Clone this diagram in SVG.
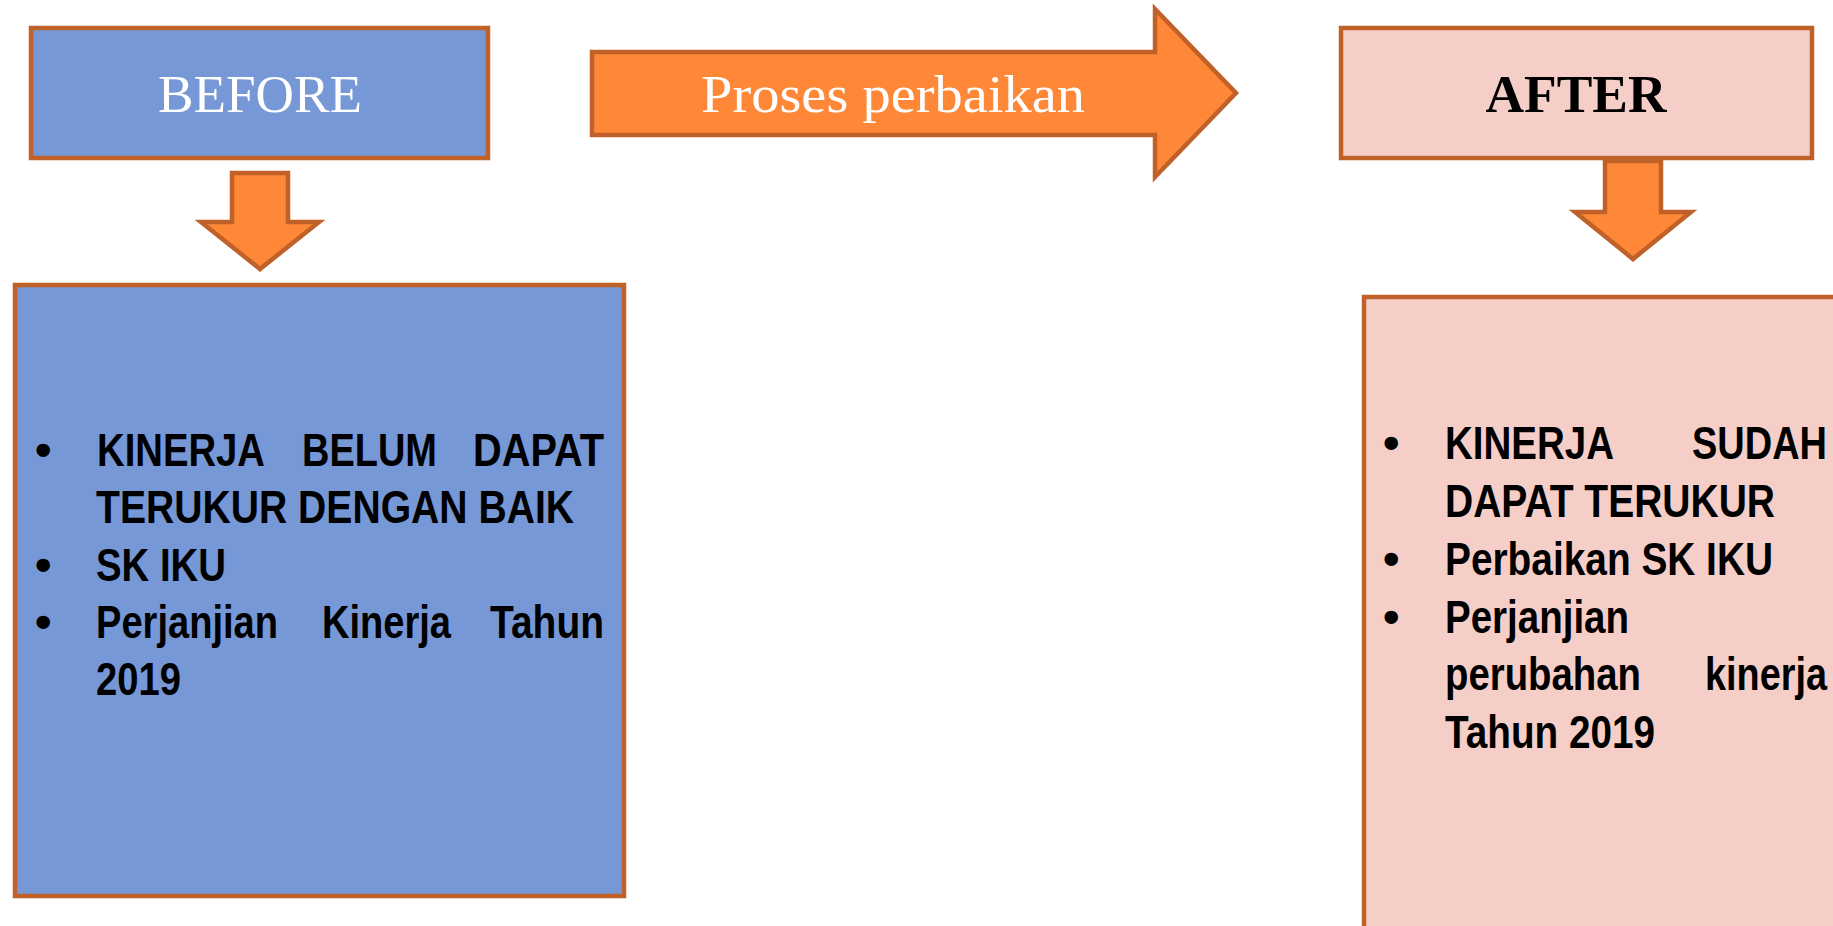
<svg xmlns="http://www.w3.org/2000/svg" width="1833" height="926" viewBox="0 0 1833 926">
  <style>
    .box { stroke: #BF6128; stroke-width: 4.5; stroke-linejoin: miter; }
    .blue { fill: #7698D6; }
    .pink { fill: #F6CEC8; }
    .orange { fill: #FE8837; stroke: #BF6128; stroke-width: 4.5; stroke-linejoin: miter; }
    .serif { font-family: "Liberation Serif", "DejaVu Serif", serif; font-size: 53px; }
    .t { font-family: "Liberation Sans Narrow", "Liberation Sans", Arial, sans-serif; font-weight: bold; font-size: 47px; fill: #000; }
    .b { font-family: "Liberation Sans", Arial, sans-serif; font-weight: bold; font-size: 47px; fill: #000; }
  </style>
  <rect width="1833" height="926" fill="#FFFFFF"/>

  <g id="connectors">
    <path class="orange" d="M232,173 L288,173 L288,222 L319,222 L260,269 L201,222 L232,222 Z"/>
    <path class="orange" d="M1605,161 L1661,161 L1661,212 L1691,212 L1633,259 L1575,212 L1605,212 Z"/>
  </g>

  <g id="before">
    <rect class="box blue" x="31" y="28" width="457" height="130"/>
    <text class="serif" x="260" y="112" fill="#FFFFFF" text-anchor="middle" textLength="204" lengthAdjust="spacingAndGlyphs">BEFORE</text>
  </g>

  <g id="process">
    <path class="orange" d="M592,52 L1155,52 L1155,9 L1236,93 L1155,177 L1155,135 L592,135 Z"/>
    <text class="serif" x="893" y="112" fill="#FFFFFF" text-anchor="middle" textLength="384" lengthAdjust="spacingAndGlyphs">Proses perbaikan</text>
  </g>

  <g id="after">
    <rect class="box pink" x="1341" y="28" width="471" height="130"/>
    <text class="serif" x="1576" y="112" fill="#000000" font-weight="bold" text-anchor="middle" textLength="181" lengthAdjust="spacingAndGlyphs">AFTER</text>
  </g>

  <g id="before-detail">
    <rect class="box blue" x="15" y="285" width="609" height="611"/>
    <text class="b" x="35" y="466">•</text>
    <text class="t" x="97" y="466" textLength="168" lengthAdjust="spacingAndGlyphs">KINERJA</text>
    <text class="t" x="302" y="466" textLength="135" lengthAdjust="spacingAndGlyphs">BELUM</text>
    <text class="t" x="473" y="466" textLength="131" lengthAdjust="spacingAndGlyphs">DAPAT</text>
    <text class="t" x="96" y="523" textLength="478" lengthAdjust="spacingAndGlyphs">TERUKUR DENGAN BAIK</text>
    <text class="b" x="35" y="581">•</text>
    <text class="t" x="96" y="581" textLength="130" lengthAdjust="spacingAndGlyphs">SK IKU</text>
    <text class="b" x="35" y="638">•</text>
    <text class="t" x="96" y="638" textLength="182" lengthAdjust="spacingAndGlyphs">Perjanjian</text>
    <text class="t" x="322" y="638" textLength="129" lengthAdjust="spacingAndGlyphs">Kinerja</text>
    <text class="t" x="490" y="638" textLength="114" lengthAdjust="spacingAndGlyphs">Tahun</text>
    <text class="t" x="96" y="695" textLength="85" lengthAdjust="spacingAndGlyphs">2019</text>
  </g>

  <g id="after-detail">
    <rect class="box pink" x="1364" y="297" width="600" height="700"/>
    <text class="b" x="1383" y="459">•</text>
    <text class="t" x="1445" y="459" textLength="169" lengthAdjust="spacingAndGlyphs">KINERJA</text>
    <text class="t" x="1692" y="459" textLength="135" lengthAdjust="spacingAndGlyphs">SUDAH</text>
    <text class="t" x="1445" y="517" textLength="330" lengthAdjust="spacingAndGlyphs">DAPAT TERUKUR</text>
    <text class="b" x="1383" y="575">•</text>
    <text class="t" x="1445" y="575" textLength="328" lengthAdjust="spacingAndGlyphs">Perbaikan SK IKU</text>
    <text class="b" x="1383" y="633">•</text>
    <text class="t" x="1445" y="633" textLength="184" lengthAdjust="spacingAndGlyphs">Perjanjian</text>
    <text class="t" x="1445" y="690" textLength="196" lengthAdjust="spacingAndGlyphs">perubahan</text>
    <text class="t" x="1705" y="690" textLength="122" lengthAdjust="spacingAndGlyphs">kinerja</text>
    <text class="t" x="1445" y="748" textLength="210" lengthAdjust="spacingAndGlyphs">Tahun 2019</text>
  </g>
</svg>
